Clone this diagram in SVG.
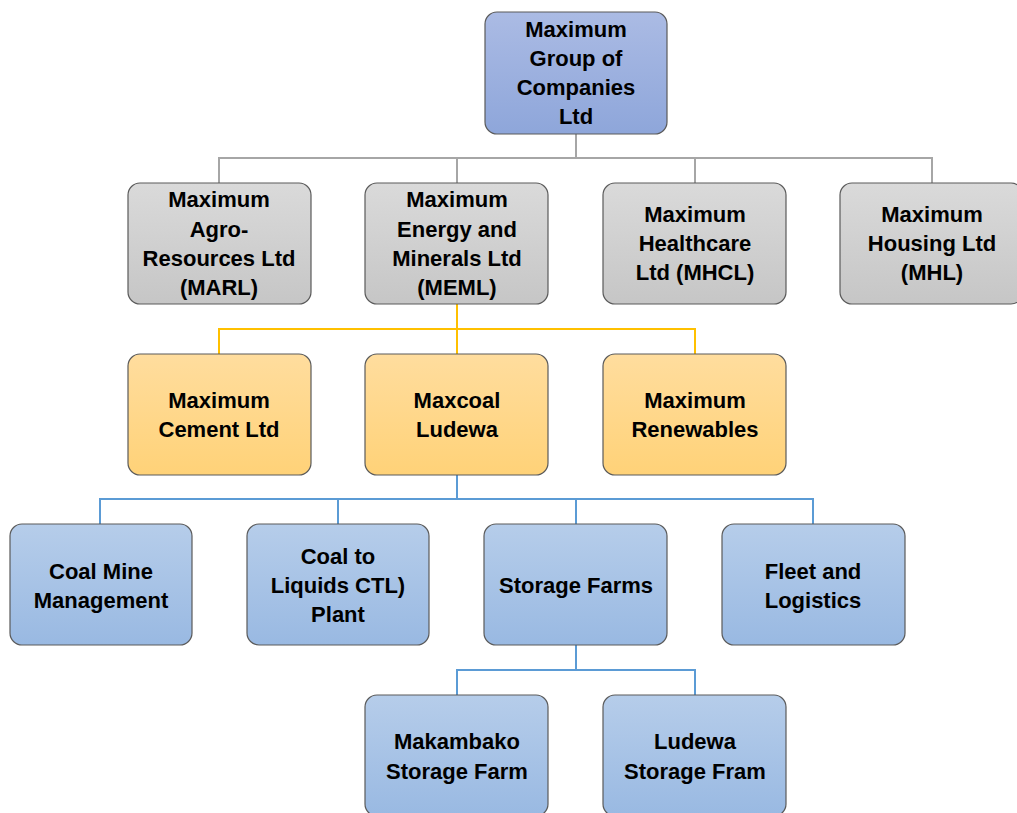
<svg xmlns="http://www.w3.org/2000/svg" width="1017" height="813" viewBox="0 0 1017 813">
<defs>
<linearGradient id="gTop" x1="0" y1="0" x2="0" y2="1"><stop offset="0" stop-color="#abbbe4"/><stop offset="1" stop-color="#8ea6da"/></linearGradient>
<linearGradient id="gGray" x1="0" y1="0" x2="0" y2="1"><stop offset="0" stop-color="#dadada"/><stop offset="1" stop-color="#c6c6c6"/></linearGradient>
<linearGradient id="gOr" x1="0" y1="0" x2="0" y2="1"><stop offset="0" stop-color="#ffdd9e"/><stop offset="1" stop-color="#ffd278"/></linearGradient>
<linearGradient id="gBl" x1="0" y1="0" x2="0" y2="1"><stop offset="0" stop-color="#b6cdea"/><stop offset="1" stop-color="#99b9e2"/></linearGradient>
</defs>
<style>
rect{stroke:#5a5a5a;stroke-width:1.2}
text{font-family:"Liberation Sans",Arial,sans-serif;font-weight:bold;font-size:22px;fill:#000;text-anchor:middle}
.c{fill:none;stroke-width:2}
.g{stroke:#a6a6a6}.y{stroke:#ffc000}.b{stroke:#5b9bd5}
</style>
<rect width="1017" height="813" fill="#fff" style="stroke:none"/>
<g id="connectors">
<path class="c g" d="M576 134V158M219 183V158H932V183M457 158V183M695 158V183"/>
<path class="c y" d="M457 304V329M219 354V329H695V354M457 329V354"/>
<path class="c b" d="M457 475V499M100 524V499H813V524M338 499V524M576 499V524"/>
<path class="c b" d="M576 645V670M457 695V670H695V695"/>
</g>
<g id="n-group"><rect x="485" y="12" width="182" height="122" rx="12" fill="url(#gTop)"/><text x="576"><tspan x="576" y="37">Maximum</tspan><tspan x="576" y="66">Group of</tspan><tspan x="576" y="95">Companies</tspan><tspan x="576" y="124">Ltd</tspan></text></g>
<g id="n-marl"><rect x="128" y="183" width="183" height="121" rx="12" fill="url(#gGray)"/><text><tspan x="219" y="207">Maximum</tspan><tspan x="219" y="237">Agro-</tspan><tspan x="219" y="266">Resources Ltd</tspan><tspan x="219" y="295">(MARL)</tspan></text></g>
<g id="n-meml"><rect x="365" y="183" width="183" height="121" rx="12" fill="url(#gGray)"/><text><tspan x="457" y="207">Maximum</tspan><tspan x="457" y="237">Energy and</tspan><tspan x="457" y="266">Minerals Ltd</tspan><tspan x="457" y="295">(MEML)</tspan></text></g>
<g id="n-mhcl"><rect x="603" y="183" width="183" height="121" rx="12" fill="url(#gGray)"/><text><tspan x="695" y="222">Maximum</tspan><tspan x="695" y="251">Healthcare</tspan><tspan x="695" y="280">Ltd (MHCL)</tspan></text></g>
<g id="n-mhl"><rect x="840" y="183" width="183" height="121" rx="12" fill="url(#gGray)"/><text><tspan x="932" y="222">Maximum</tspan><tspan x="932" y="251">Housing Ltd</tspan><tspan x="932" y="280">(MHL)</tspan></text></g>
<g id="n-cement"><rect x="128" y="354" width="183" height="121" rx="12" fill="url(#gOr)"/><text><tspan x="219" y="408">Maximum</tspan><tspan x="219" y="437">Cement Ltd</tspan></text></g>
<g id="n-maxcoal"><rect x="365" y="354" width="183" height="121" rx="12" fill="url(#gOr)"/><text><tspan x="457" y="408">Maxcoal</tspan><tspan x="457" y="437">Ludewa</tspan></text></g>
<g id="n-renew"><rect x="603" y="354" width="183" height="121" rx="12" fill="url(#gOr)"/><text><tspan x="695" y="408">Maximum</tspan><tspan x="695" y="437">Renewables</tspan></text></g>
<g id="n-coalmine"><rect x="10" y="524" width="182" height="121" rx="12" fill="url(#gBl)"/><text><tspan x="101" y="579">Coal Mine</tspan><tspan x="101" y="608">Management</tspan></text></g>
<g id="n-ctl"><rect x="247" y="524" width="182" height="121" rx="12" fill="url(#gBl)"/><text><tspan x="338" y="564">Coal to</tspan><tspan x="338" y="593">Liquids CTL)</tspan><tspan x="338" y="622">Plant</tspan></text></g>
<g id="n-storage"><rect x="484" y="524" width="183" height="121" rx="12" fill="url(#gBl)"/><text><tspan x="576" y="593">Storage Farms</tspan></text></g>
<g id="n-fleet"><rect x="722" y="524" width="183" height="121" rx="12" fill="url(#gBl)"/><text><tspan x="813" y="579">Fleet and</tspan><tspan x="813" y="608">Logistics</tspan></text></g>
<g id="n-makambako"><rect x="365" y="695" width="183" height="121" rx="12" fill="url(#gBl)"/><text><tspan x="457" y="749">Makambako</tspan><tspan x="457" y="779">Storage Farm</tspan></text></g>
<g id="n-ludewa"><rect x="603" y="695" width="183" height="121" rx="12" fill="url(#gBl)"/><text><tspan x="695" y="749">Ludewa</tspan><tspan x="695" y="779">Storage Fram</tspan></text></g>
</svg>
